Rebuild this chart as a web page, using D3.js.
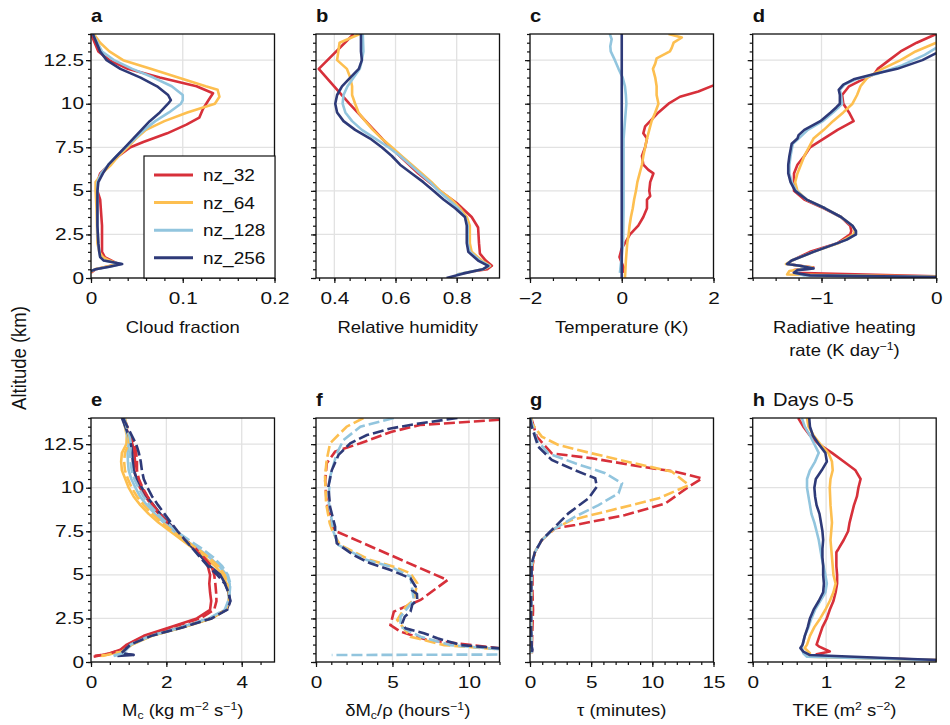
<!DOCTYPE html>
<html>
<head>
<meta charset="utf-8">
<script src="https://cdn.jsdelivr.net/npm/d3@7"></script>
<style>
  body { margin: 0; background: #fff; }
  svg { font-family: "Liberation Sans", Arial, Helvetica, sans-serif; }
</style>
</head>
<body>
<svg id="fig" width="950" height="725"></svg>
<script>
// runs and colours
const runs = ["nz_32", "nz_64", "nz_128", "nz_256"];
const colors = ["#d7303a", "#fdbf50", "#92c5de", "#2e3a78"];

// altitude axis (km)
const altTicks = [0, 2.5, 5, 7.5, 10, 12.5];
const altLabels = ["0", "2.5", "5", "7.5", "10", "12.5"];

// profiles are [value, altitude km] pairs, top down
// a: cloud fraction
const cf32 = [[0.0,14],[0.008,13],[0.02,12.5],[0.04,12],[0.075,11.5],[0.115,11],[0.133,10.6],[0.128,10.2],[0.122,9.7],[0.118,9.2],[0.104,8.8],[0.083,8.3],[0.057,7.8],[0.043,7.5],[0.03,7],[0.02,6.5],[0.01,6],[0.007,5.5],[0.007,5],[0.01,4.5],[0.012,3],[0.012,2],[0.012,1.5],[0.015,1.2],[0.03,0.8],[0.005,0.5],[0,0.3]];
const cf64 = [[0.003,14],[0.01,13.5],[0.02,13],[0.035,12.5],[0.065,12],[0.095,11.5],[0.125,11],[0.138,10.8],[0.14,10.4],[0.135,10],[0.105,9.5],[0.08,9],[0.06,8.5],[0.049,8],[0.04,7.5],[0.03,7],[0.022,6.5],[0.012,6],[0.005,5.5],[0.005,5],[0.006,4],[0.007,2],[0.009,1.5],[0.013,1.2],[0.02,1],[0.03,0.8],[0.004,0.5],[0,0.35]];
const cf128 = [[0.002,14],[0.012,13],[0.025,12.5],[0.045,12],[0.068,11.5],[0.088,11],[0.1,10.5],[0.1,10.2],[0.098,10],[0.085,9.5],[0.07,9],[0.058,8.5],[0.048,8],[0.038,7.5],[0.028,7],[0.019,6.5],[0.011,6],[0.007,5.5],[0.007,5],[0.007,4],[0.007,3],[0.008,2],[0.009,1.5],[0.01,1.2],[0.014,1],[0.033,0.8],[0.02,0.65],[0.005,0.5],[0,0.4]];
const cf256 = [[0.002,14],[0.01,13],[0.017,12.5],[0.032,12],[0.054,11.5],[0.072,11],[0.084,10.5],[0.087,10.2],[0.084,10],[0.075,9.5],[0.064,9],[0.055,8.5],[0.046,8],[0.037,7.5],[0.028,7],[0.019,6.5],[0.013,6],[0.008,5.5],[0.007,5],[0.007,4],[0.007,3],[0.008,2],[0.009,1.5],[0.01,1.2],[0.014,1],[0.034,0.8],[0.02,0.65],[0.005,0.5],[0,0.4]];

// b: relative humidity
const rh32 = [[0.463,14],[0.349,12],[0.449,10],[0.583,7.5],[0.675,6],[0.745,5],[0.8,4.3],[0.849,3.5],[0.87,2.9],[0.873,2],[0.876,1.4],[0.895,1],[0.915,0.7],[0.9,0.5],[0.86,0.4]];
const rh64 = [[0.483,14],[0.417,13.5],[0.409,12.5],[0.441,12],[0.452,11.5],[0.458,11],[0.458,10.5],[0.468,10],[0.479,9.5],[0.501,9],[0.526,8.5],[0.555,8],[0.588,7.5],[0.62,7],[0.653,6.5],[0.686,6],[0.718,5.5],[0.746,5],[0.784,4.5],[0.811,4],[0.833,3.5],[0.843,3],[0.843,2],[0.849,1.5],[0.882,1],[0.909,0.7],[0.887,0.5],[0.8,0.2]];
const rh128 = [[0.493,14],[0.495,13],[0.49,12.5],[0.483,12],[0.463,11.5],[0.443,11],[0.43,10.5],[0.427,10],[0.436,9.5],[0.458,9],[0.49,8.5],[0.534,8],[0.577,7.5],[0.615,7],[0.648,6.5],[0.68,6],[0.713,5.5],[0.74,5],[0.773,4.5],[0.805,4],[0.827,3.5],[0.836,3],[0.836,2],[0.843,1.5],[0.876,1],[0.907,0.7],[0.885,0.5],[0.8,0.2]];
const rh256 = [[0.487,14],[0.487,13],[0.49,12.5],[0.48,12],[0.452,11.5],[0.425,11],[0.409,10.5],[0.403,10],[0.409,9.5],[0.43,9],[0.468,8.5],[0.517,8],[0.555,7.5],[0.588,7],[0.615,6.5],[0.653,6],[0.691,5.5],[0.724,5],[0.757,4.5],[0.795,4],[0.827,3.5],[0.833,3],[0.833,2],[0.838,1.5],[0.87,1],[0.903,0.7],[0.885,0.5],[0.82,0.25],[0.767,0]];

// c: temperature (K)
const t32 = [[2.5,11.3],[2.0,11.05],[1.67,10.7],[1.27,10.4],[1.02,10],[0.8,9.5],[0.62,9],[0.51,8.7],[0.47,8.3],[0.55,8],[0.51,7.5],[0.44,7],[0.47,6.5],[0.58,6.2],[0.69,6],[0.62,5.5],[0.6,5],[0.62,4.7],[0.55,4.5],[0.55,4],[0.47,3.5],[0.36,3],[0.18,2.5],[0.07,2],[0,1.7],[-0.05,1.2],[0.04,0.6],[0.02,0.3]];
const t64 = [[1.02,14],[1.31,13.8],[1.13,13.5],[1.09,13.2],[1.05,13],[0.76,12.6],[0.73,12.3],[0.68,12],[0.73,11.5],[0.76,11],[0.76,10.5],[0.8,10],[0.73,9.5],[0.65,9],[0.6,8.5],[0.55,8],[0.51,7.5],[0.47,7],[0.44,6.5],[0.39,6],[0.34,5.5],[0.31,5],[0.27,4.5],[0.24,4],[0.2,3.5],[0.17,3],[0.15,2.5],[0.12,2],[0.09,1],[0.07,0]];
const t128 = [[-0.26,14],[-0.22,13.7],[-0.25,13.3],[-0.24,13],[-0.15,12.5],[-0.07,12],[0.02,11.5],[0.07,11],[0.09,10.5],[0.1,10],[0.07,9],[0.04,8],[0.04,6],[0.04,4],[0.03,2],[-0.04,0.3]];
const t256 = [[0,14],[0,0]];

// d: radiative heating rate (K/day)
const q32 = [[0,14],[-0.17,13.5],[-0.31,13],[-0.41,12.5],[-0.51,12],[-0.54,11.7],[-0.67,11.3],[-0.76,11],[-0.82,10.5],[-0.81,10],[-0.76,9.5],[-0.72,9],[-0.86,8.5],[-0.98,8],[-1.1,7.5],[-1.15,7],[-1.21,6.5],[-1.24,6],[-1.24,5.5],[-1.24,5],[-1.15,4.5],[-0.98,4],[-0.83,3.5],[-0.75,3],[-0.74,2.7],[-0.75,2.5],[-0.86,2],[-1.1,1.5],[-1.26,1],[-1.3,0.8],[-1.07,0.6],[-1.24,0.45],[-1.24,0.3],[0,0.1]];
const q64 = [[0,13.5],[-0.18,13],[-0.31,12.5],[-0.47,12],[-0.6,11.5],[-0.66,11],[-0.69,10.5],[-0.73,10],[-0.81,9.5],[-0.9,9],[-0.98,8.5],[-1.07,8],[-1.11,7.5],[-1.15,7],[-1.18,6.5],[-1.21,6],[-1.23,5.5],[-1.21,5],[-1.13,4.5],[-0.97,4],[-0.83,3.5],[-0.73,3],[-0.71,2.7],[-0.72,2.5],[-0.85,2],[-1.07,1.5],[-1.26,1],[-1.31,0.8],[-1.08,0.6],[-1.28,0.4],[-1.3,0.2],[0,0.08]];
const q128 = [[0,13.2],[-0.1,12.8],[-0.3,12.2],[-0.52,11.7],[-0.7,11.4],[-0.8,11.1],[-0.84,10.8],[-0.83,10.5],[-0.82,10],[-0.85,9.8],[-0.9,9.5],[-0.99,9],[-1.12,8.5],[-1.2,8],[-1.25,7.7],[-1.27,7],[-1.28,6.5],[-1.28,6],[-1.26,5.5],[-1.22,5],[-1.13,4.5],[-0.97,4],[-0.83,3.5],[-0.73,3],[-0.7,2.7],[-0.7,2.5],[-0.78,2.2],[-0.86,2],[-1.07,1.5],[-1.26,1],[-1.3,0.8],[-1.19,0.7],[-1.07,0.55],[-1.21,0.45],[-1.24,0.3],[-1.15,0.15],[0,0.05]];
const q256 = [[0,12.9],[-0.12,12.5],[-0.34,12],[-0.54,11.7],[-0.72,11.4],[-0.81,11.1],[-0.85,10.8],[-0.84,10.5],[-0.84,10],[-0.87,9.8],[-0.92,9.5],[-1.01,9],[-1.15,8.5],[-1.2,8.2],[-1.21,8],[-1.26,7.7],[-1.28,7],[-1.29,6.5],[-1.29,6],[-1.27,5.5],[-1.23,5],[-1.13,4.5],[-0.97,4],[-0.83,3.5],[-0.73,3],[-0.7,2.7],[-0.7,2.5],[-0.78,2.2],[-0.86,2],[-1.07,1.5],[-1.26,1],[-1.3,0.8],[-1.19,0.7],[-1.07,0.55],[-1.21,0.45],[-1.24,0.3],[-1.1,0.15],[0,0.05]];

// e: convective mass flux, solid and dashed
const mc32 = [[0.85,14],[1.0,13],[1.1,12.5],[1.15,12],[1.17,11.5],[1.15,11],[1.2,10.5],[1.3,10],[1.45,9.5],[1.6,9],[1.8,8.5],[2.0,8],[2.25,7.5],[2.5,7],[2.75,6.5],[2.95,6],[3.1,5.5],[3.16,5],[3.14,4.5],[3.16,4],[3.19,3.5],[3.16,3],[2.81,2.5],[2.1,2],[1.4,1.5],[0.95,1],[0.78,0.7],[0.5,0.5],[0.07,0.3]];
const mc32d = [[0.88,14],[1.05,13],[1.15,12.5],[1.2,12],[1.22,11.5],[1.22,11],[1.27,10.5],[1.37,10],[1.5,9.5],[1.65,9],[1.83,8.5],[2.03,8],[2.27,7.5],[2.52,7],[2.78,6.5],[3.0,6],[3.2,5.5],[3.27,5],[3.3,4.5],[3.32,4],[3.33,3.5],[3.27,3],[2.9,2.5],[2.15,2],[1.45,1.5],[0.98,1],[0.8,0.7],[0.45,0.45],[0.1,0.35]];
const mc64 = [[0.85,14],[0.95,13],[0.94,12.5],[0.82,12],[0.8,11.5],[0.82,11],[0.91,10.5],[1.0,10],[1.13,9.5],[1.31,9],[1.53,8.5],[1.79,8],[2.1,7.5],[2.41,7],[2.72,6.5],[3.03,6],[3.29,5.5],[3.5,5],[3.6,4.5],[3.65,4],[3.67,3.5],[3.6,3],[3.2,2.5],[2.45,2],[1.62,1.5],[1.09,1],[0.85,0.6],[0.25,0.35]];
const mc64d = [[0.9,14],[1.0,13],[1.0,12.5],[0.9,12],[0.88,11.5],[0.9,11],[0.98,10.5],[1.08,10],[1.22,9.5],[1.4,9],[1.62,8.5],[1.88,8],[2.18,7.5],[2.5,7],[2.82,6.5],[3.12,6],[3.38,5.5],[3.55,5],[3.62,4.5],[3.66,4],[3.66,3.5],[3.58,3],[3.18,2.5],[2.44,2],[1.6,1.5],[1.08,1],[0.82,0.6],[0.3,0.35]];
const mc128 = [[0.85,14],[0.97,13],[1.0,12.5],[0.97,12],[0.98,11.5],[1.0,11],[1.07,10.5],[1.18,10],[1.3,9.5],[1.48,9],[1.7,8.5],[1.93,8],[2.2,7.5],[2.5,7],[2.85,6.5],[3.15,6],[3.4,5.5],[3.6,5],[3.68,4.5],[3.68,4],[3.65,3.5],[3.58,3],[3.15,2.5],[2.42,2],[1.6,1.5],[1.06,1],[0.85,0.5],[0.6,0.35]];
const mc128d = [[0.88,14],[1.02,13],[1.06,12.5],[1.04,12],[1.05,11.5],[1.08,11],[1.15,10.5],[1.26,10],[1.39,9.5],[1.56,9],[1.77,8.5],[2.0,8],[2.27,7.5],[2.6,7],[2.95,6.5],[3.25,6],[3.48,5.5],[3.63,5],[3.7,4.5],[3.68,4],[3.64,3.5],[3.55,3],[3.12,2.5],[2.4,2],[1.58,1.5],[1.05,1],[0.84,0.5],[0.55,0.35]];
const mc256 = [[0.82,14],[0.91,13.5],[1.0,13],[1.06,12.5],[1.09,12],[1.11,11.5],[1.13,11],[1.22,10.5],[1.35,10],[1.48,9.5],[1.66,9],[1.84,8.5],[2.06,8],[2.28,7.5],[2.5,7],[2.72,6.5],[2.94,6],[3.16,5.5],[3.43,5],[3.56,4.5],[3.65,4],[3.69,3.5],[3.6,3],[3.16,2.5],[2.41,2],[1.57,1.5],[1.04,1],[0.91,0.8],[0.82,0.5],[1.13,0.4],[0.7,0.35]];
const mc256d = [[0.85,14],[1.08,13],[1.2,12.5],[1.27,12],[1.32,11.5],[1.35,11],[1.4,10.5],[1.5,10],[1.62,9.5],[1.78,9],[1.95,8.5],[2.12,8],[2.3,7.5],[2.5,7],[2.7,6.5],[2.9,6],[3.1,5.5],[3.35,5],[3.55,4.5],[3.65,4],[3.7,3.5],[3.62,3],[3.2,2.5],[2.45,2],[1.6,1.5],[1.05,1],[0.8,0.5],[1.15,0.4]];

// f: detrainment rate (hours^-1)
const dm32 = [[13,13.95],[12.1,13.9],[6.8,13.6],[4.9,13.2],[2.9,12.55],[1.25,12.07],[0.7,11.4],[0.6,10.4],[0.7,9.1],[1.14,7.7],[1.36,7.48],[8.6,4.7],[6.84,3.56],[5.09,2.89],[4.87,2.12],[5.53,1.74],[7.28,1.26],[12.1,0.78],[14,0.7]];
const dm64 = [[3.1,14],[2.0,13.5],[0.92,12.55],[0.7,11.6],[0.59,10.63],[0.66,9.1],[0.9,7.95],[1.14,7.38],[1.58,6.71],[3.55,5.85],[5.09,5.47],[6.18,5.09],[6.62,4.52],[6.4,3.56],[5.86,3.17],[5.31,2.41],[6.18,1.45],[8.38,0.97],[12.1,0.72],[14,0.68]];
const dm128 = [[5.09,14],[2.9,13.5],[1.8,12.74],[1.36,11.97],[0.92,10.63],[0.81,9.3],[1.03,8.15],[1.14,7.48],[1.47,6.71],[3.33,5.85],[4.87,5.47],[6.18,4.9],[6.29,4.14],[6.4,3.56],[5.53,2.6],[5.53,2.03],[6.84,1.45],[8.8,0.97],[12.1,0.72],[40,0.5],[1.03,0.4]];
const dm256 = [[9.25,14],[6.85,13.7],[4.87,13.4],[3.33,13.02],[2.24,12.55],[1.47,11.88],[1.03,11.0],[0.81,10.06],[0.92,8.9],[1.25,7.76],[1.25,7.48],[1.36,6.81],[2.45,6.14],[3.55,5.66],[4.87,5.28],[6.18,4.8],[6.51,4.32],[6.3,4.1],[6.6,3.9],[6.62,3.56],[6.3,3.3],[6.18,2.89],[5.8,2.6],[5.64,2.22],[5.86,1.93],[7.06,1.65],[7.94,1.36],[9.47,0.97],[12.1,0.78],[14,0.75]];

// g: tau (minutes)
const tau32 = [[0.14,13.9],[0.55,12.93],[1.78,11.97],[5.06,11.69],[9.16,11.2],[11.89,10.92],[14.07,10.54],[12.98,10.06],[11.07,9.1],[7.79,8.43],[3.69,7.86],[2.05,7.67],[0.96,7.0],[0.4,6.3],[0.2,5.5],[0.2,4],[0.25,3],[0.2,2],[0.15,0.9],[0.15,0.5]];
const tau64 = [[0.14,14],[0.14,13.7],[0.96,12.93],[2.32,12.45],[5.06,11.97],[9.16,11.3],[11.61,10.92],[12.98,10.15],[10.52,9.39],[6.7,8.72],[3.42,8.15],[2.05,7.67],[0.96,7.0],[0.4,6.3],[0.15,5.5],[0.12,4],[0.12,2],[0.14,0.9],[0.14,0.5]];
const tau128 = [[0.05,14],[0.14,13.7],[0.55,12.74],[1.5,11.97],[3.69,11.4],[6.15,10.83],[7.52,10.25],[7.24,9.68],[5.6,9.0],[3.69,8.34],[2.05,7.67],[0.96,7.0],[0.4,6.3],[0.14,5.6],[0.1,4],[0.1,2],[0.12,0.9],[0.12,0.5]];
const tau256 = [[0,14],[0.14,13.5],[0.68,12.35],[1.78,11.59],[3.69,11.0],[5.33,10.54],[5.47,10.06],[4.78,9.39],[3.14,8.53],[2.05,7.76],[0.96,7.0],[0.4,6.3],[0.14,5.66],[0.1,3.75],[0.1,1.85],[0.14,0.9],[0.2,0.7],[0.14,0.5]];

// h: TKE (m2/s2)
const tke32 = [[0.62,14],[0.69,13.5],[0.78,13],[0.9,12.5],[1.08,12],[1.24,11.5],[1.4,11],[1.47,10.5],[1.44,10],[1.42,9.5],[1.38,9],[1.35,8.5],[1.32,8],[1.3,7.5],[1.24,7],[1.17,6.5],[1.14,6.3],[1.14,6],[1.14,5.5],[1.15,5],[1.15,4.5],[1.13,4],[1.1,3.5],[1.05,3],[1.01,2.5],[0.95,2],[0.91,1.5],[0.87,1],[0.9,0.9],[1.05,0.6],[0.87,0.45],[1.01,0.3],[2.6,0.1]];
const tke64 = [[0.74,14],[0.76,13.5],[0.83,13],[0.92,12.5],[1.03,12],[1.08,11.5],[1.09,11],[1.06,10.5],[1.05,10],[1.06,9],[1.08,8],[1.06,7],[1.08,6],[1.1,5],[1.13,4.5],[1.1,4],[1.05,3.5],[0.99,3],[0.92,2.5],[0.84,2],[0.78,1.5],[0.74,1],[0.71,0.8],[0.78,0.5],[0.76,0.3],[2.6,0.1]];
const tke128 = [[0.67,14],[0.71,13.5],[0.78,13],[0.84,12.5],[0.9,12],[0.85,11.5],[0.78,11],[0.74,10.5],[0.74,10],[0.76,9.5],[0.78,9],[0.8,8.5],[0.84,8],[0.87,7.5],[0.9,7],[0.94,6],[0.99,5],[1.01,4.5],[0.99,4],[0.92,3.5],[0.85,3],[0.8,2.5],[0.76,2],[0.71,1.5],[0.68,1],[0.67,0.8],[0.69,0.5],[0.74,0.3],[2.6,0.1]];
const tke256 = [[0.77,14],[0.78,13.5],[0.82,13],[0.9,12.5],[0.99,12],[1.01,11.5],[0.94,11],[0.86,10.5],[0.84,10],[0.85,9.5],[0.87,9],[0.91,8.5],[0.93,8],[0.95,7.5],[0.96,7],[0.95,6.5],[0.95,6],[0.96,5.5],[0.96,5],[0.97,4.5],[0.96,4],[0.9,3.5],[0.83,3],[0.78,2.5],[0.75,2],[0.71,1.5],[0.68,1],[0.65,0.8],[0.69,0.6],[0.78,0.4],[2.6,0.1]];

// x tick values / labels per panel
const xTicksA = [0, 0.1, 0.2],   xLabA = ["0", "0.1", "0.2"];
const xTicksB = [0.4, 0.6, 0.8], xLabB = ["0.4", "0.6", "0.8"];
const xTicksC = [-2, 0, 2],      xLabC = ["\u22122", "0", "2"];
const xTicksD = [-1, 0],         xLabD = ["\u22121", "0"];
const xTicksE = [0, 2, 4],       xLabE = ["0", "2", "4"];
const xTicksF = [0, 5, 10],      xLabF = ["0", "5", "10"];
const xTicksG = [0, 5, 10, 15],  xLabG = ["0", "5", "10", "15"];
const xTicksH = [0, 1, 2],       xLabH = ["0", "1", "2"];

// ---- layout ----
const svg = d3.select("#fig");
const colLeft = [91, 316, 530, 752.7];
const rowTop = [34, 418];
const pw = 183.5, ph = 244;
const SX = 1.3;   // reference glyphs are wider than Liberation Sans
const TX = 1.12;
const lineW = 2.6;
const dashPat = "11,4";

const panels = [
  { id: "a", col: 0, row: 0, dom: [0, 0.2], ticks: xTicksA, labs: xLabA, minor: 0.02, series: [cf32, cf64, cf128, cf256] },
  { id: "b", col: 1, row: 0, dom: [0.34, 0.94], ticks: xTicksB, labs: xLabB, minor: 0.05, series: [rh32, rh64, rh128, rh256] },
  { id: "c", col: 2, row: 0, dom: [-2, 2], ticks: xTicksC, labs: xLabC, minor: 0.5, series: [t32, t64, t128, t256] },
  { id: "d", col: 3, row: 0, dom: [-1.6, 0], ticks: xTicksD, labs: xLabD, minor: 0.2, series: [q32, q64, q128, q256] },
  { id: "e", col: 0, row: 1, dom: [0, 4.87], ticks: xTicksE, labs: xLabE, minor: 0.5, series: [mc32, mc64, mc128, mc256], dashed: [mc32d, mc64d, mc128d, mc256d] },
  { id: "f", col: 1, row: 1, dom: [0, 12], ticks: xTicksF, labs: xLabF, minor: 1, dashed: [dm32, dm64, dm128, dm256] },
  { id: "g", col: 2, row: 1, dom: [0, 15], ticks: xTicksG, labs: xLabG, minor: 1, dashed: [tau32, tau64, tau128, tau256] },
  { id: "h", col: 3, row: 1, dom: [0, 2.5], ticks: xTicksH, labs: xLabH, minor: 0.2, series: [tke32, tke64, tke128, tke256] }
];

function stepRange(lo, hi, step) {
  const out = [];
  const start = Math.ceil(lo / step - 1e-6);
  for (let k = start; k * step <= hi + 1e-9; k++) out.push(+(k * step).toFixed(6));
  return out;
}

panels.forEach(p => {
  const left = colLeft[p.col], top = rowTop[p.row];
  const g = svg.append("g").attr("transform", `translate(${left},${top})`);
  const x = d3.scaleLinear().domain(p.dom).range([0, pw]);
  const y = d3.scaleLinear().domain([0, 14]).range([ph, 0]);

  // grid
  g.append("g").selectAll("line").data(p.ticks).join("line")
    .attr("x1", d => x(d)).attr("x2", d => x(d)).attr("y1", 0).attr("y2", ph)
    .attr("stroke", "#e2e2e2").attr("stroke-width", 1.3);
  g.append("g").selectAll("line").data(altTicks).join("line")
    .attr("x1", 0).attr("x2", pw).attr("y1", d => y(d)).attr("y2", d => y(d))
    .attr("stroke", "#e2e2e2").attr("stroke-width", 1.3);

  // lines
  const clipId = "clip-" + p.id;
  g.append("clipPath").attr("id", clipId).append("rect")
    .attr("x", 0).attr("y", 0).attr("width", pw).attr("height", ph);
  const line = d3.line().x(d => x(d[0])).y(d => y(d[1])).curve(d3.curveLinear);
  const lines = g.append("g").attr("clip-path", `url(#${clipId})`);
  if (p.series) {
    p.series.forEach((s, i) => {
      lines.append("path").datum(s).attr("d", line)
        .attr("fill", "none").attr("stroke", colors[i])
        .attr("stroke-width", lineW).attr("stroke-linejoin", "round");
    });
  }
  if (p.dashed) {
    p.dashed.forEach((s, i) => {
      lines.append("path").datum(s).attr("d", line)
        .attr("fill", "none").attr("stroke", colors[i])
        .attr("stroke-width", lineW).attr("stroke-dasharray", dashPat);
    });
  }

  // frame
  g.append("rect").attr("width", pw).attr("height", ph)
    .attr("fill", "none").attr("stroke", "#111").attr("stroke-width", 1.3);

  // axes: minor then major
  const xMinor = g.append("g").attr("transform", `translate(0,${ph})`)
    .call(d3.axisBottom(x).tickValues(stepRange(p.dom[0], p.dom[1], p.minor)).tickSize(3).tickFormat(""));
  const xMajor = g.append("g").attr("transform", `translate(0,${ph})`)
    .call(d3.axisBottom(x).tickValues(p.ticks).tickSize(5).tickPadding(10)
      .tickFormat((d, i) => p.labs[i]));
  const yMinor = g.append("g")
    .call(d3.axisLeft(y).tickValues(stepRange(0, 14, 0.5)).tickSize(3).tickFormat(""));
  const yMajor = g.append("g")
    .call(d3.axisLeft(y).tickValues(altTicks).tickSize(5).tickPadding(2)
      .tickFormat((d, i) => p.col === 0 ? altLabels[i] : ""));

  [xMinor, xMajor, yMinor, yMajor].forEach(a => {
    a.select(".domain").remove();
    a.selectAll(".tick line").attr("stroke", "#111").attr("stroke-width", 1.2);
    a.selectAll("text").attr("font-size", 16).attr("fill", "#111")
      .attr("font-family", '"Liberation Sans", Arial, sans-serif');
  });
  xMajor.selectAll("text").attr("transform", `scale(${SX},1)`);
  yMajor.selectAll("text").attr("x", -7 / SX).attr("transform", `scale(${SX},1)`);

  // panel letter
  g.append("text").attr("x", 0).attr("y", -12)
    .attr("font-size", 18).attr("font-weight", "bold").attr("fill", "#111")
    .attr("transform", `scale(${TX},1)`).text(p.id);
});

// h title
svg.append("text").attr("x", 773 / TX).attr("y", rowTop[1] - 12)
  .attr("font-size", 18).attr("fill", "#111").attr("transform", `scale(${TX},1)`)
  .text("Days 0-5");

// axis titles; sup / sub parts are shifted with dy and reset afterwards
function xTitle(col, yb, parts) {
  const cx = colLeft[col] + pw / 2;
  const t = svg.append("text").attr("x", cx / TX).attr("y", yb)
    .attr("text-anchor", "middle").attr("font-size", 16.5).attr("fill", "#111")
    .attr("transform", `scale(${TX},1)`);
  let shift = 0;
  parts.forEach(pt => {
    const want = pt.sup ? -6 : pt.sub ? 3 : 0;
    const ts = t.append("tspan").attr("dy", want - shift).text(pt.t);
    if (pt.sup || pt.sub) ts.attr("font-size", 11);
    shift = want;
  });
}
const tRow = 333, bRow = 716;
xTitle(0, tRow, [{ t: "Cloud fraction" }]);
xTitle(1, tRow, [{ t: "Relative humidity" }]);
xTitle(2, tRow, [{ t: "Temperature (K)" }]);
xTitle(3, tRow, [{ t: "Radiative heating" }]);
xTitle(3, tRow + 23, [{ t: "rate (K day" }, { t: "\u22121", sup: true }, { t: ")" }]);
xTitle(0, bRow, [{ t: "M" }, { t: "c", sub: true }, { t: " (kg m" }, { t: "\u22122", sup: true }, { t: " s" }, { t: "\u22121", sup: true }, { t: ")" }]);
xTitle(1, bRow, [{ t: "\u03b4M" }, { t: "c", sub: true }, { t: "/\u03c1 (hours" }, { t: "\u22121", sup: true }, { t: ")" }]);
xTitle(2, bRow, [{ t: "\u03c4 (minutes)" }]);
xTitle(3, bRow, [{ t: "TKE (m" }, { t: "2", sup: true }, { t: " s" }, { t: "\u22122", sup: true }, { t: ")" }]);

// y title
svg.append("text")
  .attr("transform", `translate(26,358) rotate(-90) scale(1,${TX})`)
  .attr("text-anchor", "middle").attr("font-size", 18.5).attr("fill", "#111")
  .text("Altitude (km)");

// legend in panel a
const lg = svg.append("g").attr("transform", "translate(144,156)");
lg.append("rect").attr("width", 131).attr("height", 122)
  .attr("fill", "#fff").attr("stroke", "#111").attr("stroke-width", 1.2);
runs.forEach((r, i) => {
  const yy = 19 + i * 27.6;
  lg.append("line").attr("x1", 10).attr("x2", 49).attr("y1", yy).attr("y2", yy)
    .attr("stroke", colors[i]).attr("stroke-width", lineW + 0.4);
  lg.append("text").attr("x", 59 / TX).attr("y", yy + 6)
    .attr("font-size", 17).attr("fill", "#111").attr("transform", `scale(${TX},1)`)
    .text(r);
});
</script>
</body>
</html>
